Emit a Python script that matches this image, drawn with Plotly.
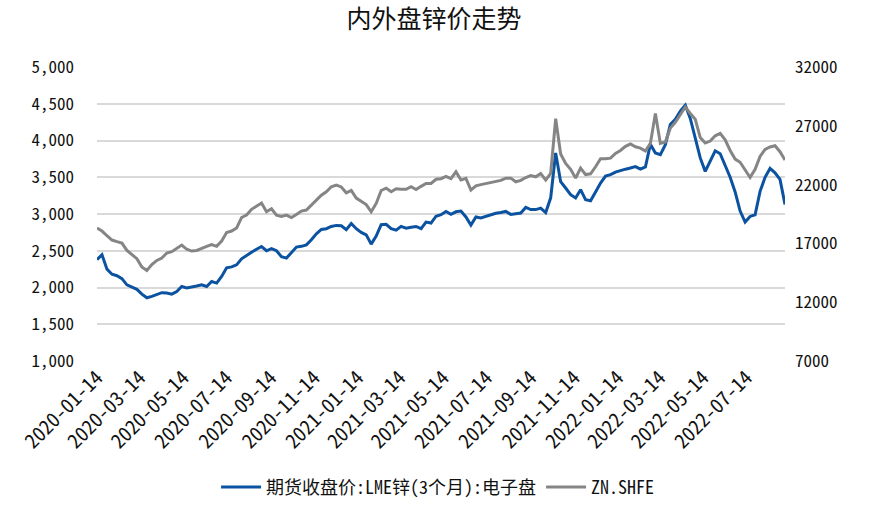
import pandas as pd
import plotly.graph_objects as go

# Weekly samples (start 2020-01-14)
start_date = "2020-01-14"

lme_zinc = [2380, 2445, 2250, 2180, 2160, 2120, 2036, 2010, 1975, 1910,
            1860, 1880, 1900, 1930, 1925, 1910, 1945, 2013, 1995, 2005,
            2020, 2036, 2013, 2081, 2060, 2150, 2268, 2280, 2308, 2390,
            2440, 2480, 2520, 2558, 2500, 2530, 2500, 2420, 2400, 2472,
            2550, 2560, 2580, 2649, 2730, 2790, 2800, 2831, 2845, 2840,
            2786, 2870, 2800, 2750, 2717, 2590, 2700, 2854, 2860, 2800,
            2780, 2831, 2808, 2820, 2830, 2800, 2890, 2877, 2970, 2990,
            3035, 2995, 3030, 3040, 2960, 2850, 2960, 2945, 2970, 2995,
            3010, 3020, 3035, 2995, 3000, 3013, 3090, 3060, 3060, 3080,
            3020, 3220, 3831, 3440, 3354, 3263, 3218, 3331, 3194, 3180,
            3300, 3420, 3515, 3535, 3570, 3595, 3610, 3626, 3645, 3610,
            3640, 3950, 3831, 3808, 3944, 4217, 4290, 4400, 4480, 4300,
            4035, 3763, 3580, 3730, 3860, 3820, 3650, 3500, 3300, 3040,
            2890, 2967, 2990, 3308, 3500, 3620, 3560, 3470, 3130]

shfe_zinc = [18300, 18050, 17650, 17285, 17150, 17030, 16400, 16050, 15700, 15000,
             14700, 15200, 15550, 15755, 16180, 16300, 16550, 16860, 16500, 16350,
             16400, 16605, 16750, 16900, 16750, 17200, 17930, 18050, 18305, 19200,
             19410, 19900, 20200, 20430, 19690, 19950, 19400, 19300, 19410, 19200,
             19450, 19750, 19835, 20260, 20700, 21100, 21390, 21815, 21950, 21800,
             21300, 21500, 20850, 20550, 20300, 19690, 20400, 21500, 21700, 21390,
             21650, 21600, 21600, 21815, 21580, 21850, 22100, 22100, 22450, 22500,
             22700, 22500, 23090, 22385, 22525, 21535, 21900, 22000, 22100, 22200,
             22280, 22360, 22550, 22550, 22240, 22360, 22600, 22760, 22665, 22950,
             22385, 22950, 27600, 24600, 23800, 23300, 22550, 23400, 22850, 22920,
             23515, 24200, 24200, 24250, 24650, 24900, 25250, 25450, 25215, 25100,
             24850, 25500, 28055, 25500, 25620, 26800, 27300, 28000, 28600, 28050,
             27550, 26000, 25530, 25700, 26150, 26350, 25800, 24900, 24170, 23900,
             23200, 22600, 23300, 24400, 25000, 25200, 25300, 24800, 24085]

dates = pd.date_range(start_date, periods=len(lme_zinc), freq="7D")

tick_labels = ["2020-01-14", "2020-03-14", "2020-05-14", "2020-07-14", "2020-09-14",
               "2020-11-14", "2021-01-14", "2021-03-14", "2021-05-14", "2021-07-14",
               "2021-09-14", "2021-11-14", "2022-01-14", "2022-03-14", "2022-05-14",
               "2022-07-14"]

left_ticks = [1000, 1500, 2000, 2500, 3000, 3500, 4000, 4500, 5000]
right_ticks = [7000, 12000, 17000, 22000, 27000, 32000]

FONT = "Noto Sans Mono CJK SC, Noto Sans CJK SC, sans-serif"

fig = go.Figure()
fig.add_trace(go.Scatter(x=dates, y=lme_zinc, mode="lines",
                         name="期货收盘价:LME锌(3个月):电子盘",
                         line=dict(color="#0B52A0", width=3)))
fig.add_trace(go.Scatter(x=dates, y=shfe_zinc, mode="lines", name="ZN.SHFE",
                         yaxis="y2", line=dict(color="#858585", width=3)))

fig.update_layout(
    width=878, height=505,
    margin=dict(l=97, r=93, t=67, b=144, autoexpand=False),
    paper_bgcolor="white", plot_bgcolor="white",
    font=dict(family=FONT, size=17, color="#222222"),
    title=dict(text="内外盘锌价走势", x=0.49, xanchor="center", xref="paper",
               y=0.961, yanchor="middle", yref="container",
               font=dict(family="Noto Sans CJK SC", size=25, color="#111111")),
    showlegend=True,
    legend=dict(orientation="h", x=0.495, xanchor="center", y=-0.43, yanchor="middle",
                font=dict(family=FONT, size=18, color="#111111"),
                itemwidth=40, tracegroupgap=0),
    xaxis=dict(type="date", range=[dates[0], dates[-1]], automargin=False,
               tickmode="array", tickvals=tick_labels, ticktext=tick_labels,
               tickangle=-45, showgrid=False, zeroline=False, showline=False,
               ticks="", tickfont=dict(family=FONT, size=20, color="#111111")),
    yaxis=dict(range=[1000, 5000], tickmode="array", tickvals=left_ticks,
               tickformat=",", showgrid=True, gridcolor="#D9D9D9", gridwidth=1.5,
               zeroline=False, showline=False, ticks="", ticklabelstandoff=22,
               automargin=False,
               tickfont=dict(family=FONT, size=17, color="#111111")),
    yaxis2=dict(range=[7000, 32000], tickmode="array", tickvals=right_ticks,
                overlaying="y", side="right", showgrid=False, zeroline=False,
                showline=False, ticks="", tickformat="d", ticklabelstandoff=9,
                automargin=False,
                tickfont=dict(family=FONT, size=17, color="#111111")),
)

fig.write_html("out.html", config={"displayModeBar": False},
               post_script="document.body.style.margin='0';")
